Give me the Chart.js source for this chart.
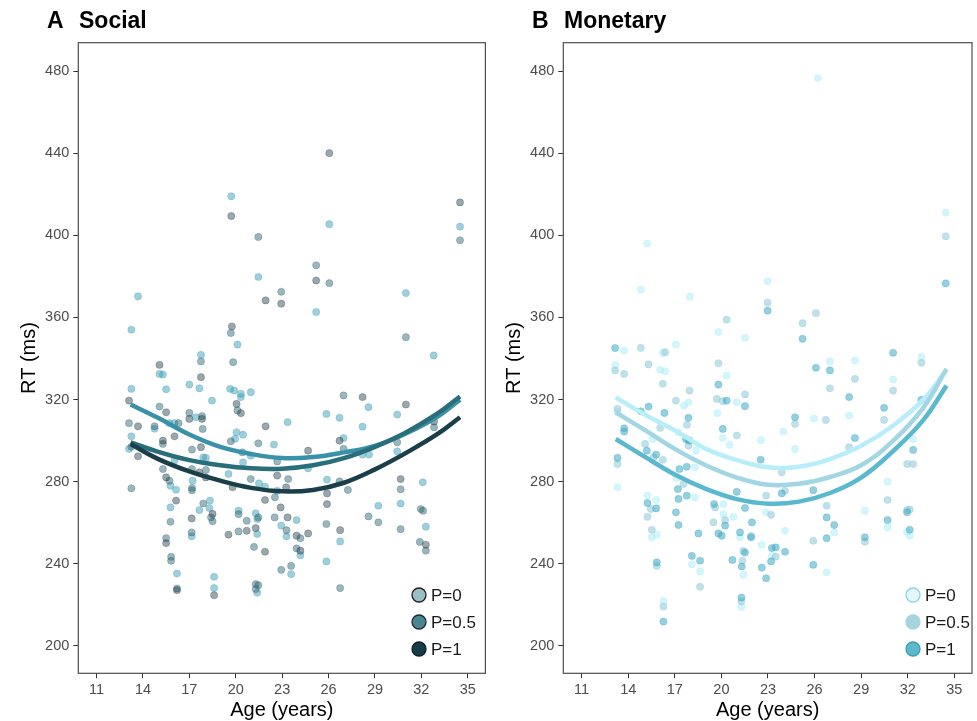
<!DOCTYPE html>
<html>
<head>
<meta charset="utf-8">
<script src="https://cdn.jsdelivr.net/npm/chart.js@4.4.1/dist/chart.umd.min.js"></script>
<style>
  body { margin: 0; background: #fff; }
  #wrap { position: relative; width: 977px; height: 721px; }
  .panel { position: absolute; top: 0; height: 721px; }
</style>
</head>
<body>
<div id="wrap">
  <div class="panel" style="left:0;width:490px"><canvas id="social" width="490" height="721"></canvas></div>
  <div class="panel" style="left:485px;width:492px"><canvas id="monetary" width="492" height="721"></canvas></div>
</div>
<script>
// axis ticks
var xTicks = [11, 14, 17, 20, 23, 26, 29, 32, 35];
var yTicks = [200, 240, 280, 320, 360, 400, 440, 480];
var seriesLabels = ["P=0", "P=0.5", "P=1"];

var curveAges = [13.2, 15, 17, 19, 21, 23, 25, 27, 29, 31, 33, 34.5];

// Social: fitted curves
var socialFitP0 = [317.6, 311, 303, 297, 293.5, 291.5, 292, 294.3, 297.5, 303.5, 311.5, 320];
var socialFitP05 = [299.2, 294.5, 290.5, 288, 286.5, 286.3, 288, 291.5, 297, 304, 313, 321.5];
var socialFitP1 = [298.4, 291, 285, 280.5, 277, 275.3, 276, 279.5, 286, 294, 303, 311.4];

// Monetary: fitted curves
var monetaryFitP0 = [321, 313, 305, 296, 290.5, 287, 287.3, 291, 297.5, 307, 320, 334.5];
var monetaryFitP05 = [313.8, 305.5, 296, 288, 282, 278.5, 279, 282.3, 288, 299.5, 316, 335];
var monetaryFitP1 = [300.8, 292.5, 283.5, 276.5, 271.5, 269.3, 270.3, 274.5, 282, 294.5, 310, 326.8];

// Social: individual RTs [age, RT]
var socialP0 = [[13.25,354],[13.68,370.3],[13.25,325.2],[13.25,302.1],[13.1,296],[15.07,332.5],[15.29,332.2],[15.5,325],[14.75,305.8],[15.71,308.5],[16.04,308.5],[16.04,290.3],[15.78,278],[16.14,276.1],[15.78,267.5],[16.2,235.3],[17,327.3],[17.75,341.8],[17.43,311.4],[17.65,325.5],[17.9,291.9],[18.07,291.6],[17.21,280.5],[17.65,266.2],[18.33,270.8],[18.29,267.2],[17.15,253.4],[18.6,233.7],[18.6,228.2],[18.46,319.5],[20.11,346.8],[19.64,325.2],[19.9,324.4],[20.33,322.8],[20.33,321.2],[20.97,323.6],[20.05,304.1],[20.47,302.9],[19.96,300.9],[20.97,292.7],[20.47,289.4],[22.47,298.1],[19.53,283.8],[21.5,279.2],[21.89,277.6],[23.35,309],[22.68,275.6],[20.18,265.9],[21.29,264.6],[21.39,261.8],[21.39,254.5],[22.94,258.6],[23.28,253.4],[23.93,261.3],[24.18,244.2],[21.39,226],[23.58,235],[24.68,286.5],[25.86,313],[26.71,311.1],[26.97,301.3],[25.9,281],[26.75,250.9],[25.86,241.2],[28.58,316.3],[28.2,306.8],[28.2,293.2],[28.62,293.2],[29.22,268.3],[30.44,312.7],[30.44,294.8],[30.66,269.4],[32.09,279.7],[32.29,258.1],[19.71,419],[26.05,405.4],[25.2,362.6],[31,371.9],[32.8,341.5],[34.5,404.2],[21.46,379.7]];
var socialP05 = [[13.1,308.5],[13.25,297],[13.25,276.8],[15.07,316.6],[14.75,307],[15.29,298.4],[15.29,286.2],[15.71,280.5],[15.78,260.5],[15.82,243.4],[17.75,338.6],[17,313.5],[17.82,311.9],[17.17,295.6],[17.17,286.2],[18.07,285.7],[17.17,276.9],[18.5,260.7],[17.15,255.3],[19.68,352.4],[19.83,338.2],[20.11,314.7],[19.68,299.7],[21.46,298.7],[20.97,281.3],[22.68,289.9],[23.39,281.3],[22.53,272.4],[20.18,264.2],[20.71,261],[21.46,262.6],[21.18,248.3],[22.51,262.6],[23.28,256.4],[24.18,252.5],[23.93,247.5],[22.94,237.1],[26.97,322],[26.97,296],[26.71,280.2],[25.86,259.4],[26.75,228.2],[28.58,263.1],[30.44,299.2],[32.11,265.9],[32.29,246.4],[32.82,306.5],[21.46,399.2],[25.2,385.4],[26.05,376.7],[31,350.4],[34.5,397.6],[16.3,308.5],[15.5,252.5],[15.82,241.5],[16.2,228],[17.86,305.7],[17.17,275.8],[17.9,269.4],[18.4,262.6],[20.43,294.3],[20.18,255.8],[21.29,230.1],[21.46,229.6],[21.29,227.7],[23.58,239],[27.25,276],[29.22,260.2],[30.66,276.3],[30.66,256.9],[31.96,266.7],[31.9,250.7],[22.94,372.5]];
var socialP1 = [[13.1,319.5],[13.68,307],[13.68,292.4],[15.07,336.9],[15.5,313.8],[15.29,300],[16.04,302.1],[15.5,282.1],[16.14,270.8],[15.5,250.1],[16.2,227.2],[17.75,330.9],[17,310.6],[17.82,310.6],[17.75,296.8],[17.65,284.6],[18.07,282.1],[18.5,264.3],[17.15,262.1],[18.6,224.7],[19.75,355.6],[20.05,317.9],[20.33,313.4],[21.93,307],[19.79,277.3],[21.89,271.1],[22.68,283],[23.26,277.3],[22.9,267.5],[19.53,254.2],[20.71,256.1],[21.29,257.4],[21.89,245.9],[23.35,262.6],[23.93,253.7],[24.68,254.8],[24.18,246.4],[24.68,295.1],[26.71,300],[25.9,274.3],[25.9,269.1],[26.75,256.4],[28.2,321.2],[31,317.6],[30.66,281.3],[32.29,249.3],[32.82,309.3],[19.71,409.4],[26.05,440],[25.2,378],[22.94,366.7],[34.5,416],[21.93,368.3]];

// Monetary: individual RTs [age, RT]
var monetaryP0 = [[26.22,476.6],[15.22,396],[22.98,377.6],[14.81,373.5],[17.97,370.1],[19.81,352.9],[21.52,350.1],[13.74,343.9],[16.23,342.6],[17.07,346.8],[13.16,336.9],[16.06,334.5],[16.38,333.8],[20.34,331.7],[17.88,318.7],[17.6,317.1],[20.99,318.7],[19.74,313.4],[13.31,314],[17.24,304.1],[20.09,301.3],[20.52,297.9],[22.55,300.3],[23.99,304.4],[24.74,295.9],[25.96,310.9],[26.99,338.6],[28.6,339],[28.23,312.2],[31.06,329.8],[32.88,340.7],[32.35,300.8],[30.7,280],[30.7,257.7],[31.96,255.6],[32.13,253.7],[29.24,265.9],[27.27,255.3],[26.78,235.8],[22.88,265.1],[24.1,256.1],[22.6,249.3],[23.25,243.9],[21.41,234.7],[21.2,252.9],[20.13,264.2],[20.13,269.1],[20.77,262.9],[21.29,219],[18.1,239.8],[18.63,236.3],[17.13,281.8],[18.3,272.4],[18.37,295.1],[18.3,287],[15.56,300.8],[13.31,277.3],[15.24,273.2],[15.8,271.1],[15.52,252.9],[15.84,254.2],[16.27,221.9],[34.45,411]];
var monetaryP05 = [[22.98,367.2],[26.09,362.1],[25.23,357.2],[20.34,358.9],[14.81,345.2],[16.38,343.1],[13.16,334.2],[13.74,332.5],[15.31,337.1],[16.23,327.7],[19.81,337.7],[17.95,324.4],[17.07,319.5],[19.7,320.3],[20.09,319.2],[21.52,322.5],[13.31,315.5],[17.77,307.7],[16.06,306.2],[17.88,300.3],[20.99,302.5],[24.74,308.1],[26.73,310.1],[26.99,325.5],[28.6,330.1],[28.23,296.8],[31.06,324.4],[30.48,310.1],[32.88,337.9],[31.96,288.6],[32.35,288.6],[30.7,271.1],[31.96,266.2],[32.13,266.5],[29.24,250.8],[26.78,268.3],[25.92,251.2],[24.1,275.6],[23.89,284.6],[22.88,273.2],[23.2,263.9],[23.5,243.5],[21.91,253.6],[21.41,246.3],[21.35,241.5],[20.24,261.3],[19.49,260.2],[19.6,267.5],[21.29,221.8],[18.63,228.8],[17.56,278.9],[17.88,297.6],[16.23,290.7],[15.63,291.9],[15.09,298.4],[13.31,288.6],[15.46,266.7],[15.24,262.9],[15.52,256.6],[15.84,239],[16.27,219.2],[34.45,399.5]];
var monetaryP1 = [[22.98,363.3],[25.23,349.6],[13.16,345.1],[19.81,327.3],[20.34,319.5],[21.52,316.8],[14.81,314.3],[15.31,316.6],[16.33,313.5],[17.88,311.1],[13.74,304.4],[17.72,300.8],[17.94,300],[20.09,305.7],[22.53,290.7],[24.74,311.4],[26.99,334.2],[26.09,335.5],[28.23,321.2],[28.6,301.3],[31.06,342.8],[30.48,316],[32.88,319.9],[32.35,295.5],[30.7,261.3],[31.96,265.1],[32.13,256.6],[29.24,252.9],[26.78,262.6],[27.27,258.9],[26.78,252.5],[25.92,275.9],[25.92,239.5],[23.89,274.3],[23.25,247.7],[23.5,248],[24.1,245.9],[23.2,241.2],[22.6,238.2],[22.88,233],[21.97,260.2],[21.91,252.9],[21.52,245.5],[21.31,238.7],[20.71,241.9],[21.2,255.3],[20.24,258.6],[20.02,253.7],[19.81,254.8],[19.53,269.1],[20.99,275.1],[21.52,267.2],[21.29,223.6],[18.63,241.5],[18.1,243.9],[18.52,254.8],[17.07,265.1],[17.24,258.9],[17.24,271.6],[17.2,276.4],[17.77,273.2],[17.3,286.2],[17.77,287.3],[15.8,293.2],[15.2,295.1],[13.31,291.6],[15.24,269.6],[15.8,267],[15.84,240.7],[16.27,211.9],[34.45,376.6],[13.74,306]];

var FONT = '"Liberation Sans", Arial, Helvetica, sans-serif';
Chart.defaults.font.family = FONT;

function toXY(pairs) {
  return pairs.map(function (p) { return { x: p[0], y: p[1] }; });
}
function curveXY(values) {
  return values.map(function (v, i) { return { x: curveAges[i], y: v }; });
}

// frame, panel title and the inside legend
function decoPlugin(letter, name, legendX, keys) {
  return {
    id: "deco",
    afterDraw: function (chart) {
      var ctx = chart.ctx;
      var a = chart.chartArea;
      ctx.save();
      ctx.strokeStyle = "#4d4d4d";
      ctx.lineWidth = 1.2;
      ctx.strokeRect(a.left, a.top, a.right - a.left, a.bottom - a.top);

      ctx.fillStyle = "#000";
      ctx.font = "bold 23px " + FONT;
      ctx.textBaseline = "alphabetic";
      ctx.fillText(letter, 47, 28);
      ctx.fillText(name, 79, 28);

      var rows = [595, 622, 649];
      ctx.font = "17px " + FONT;
      ctx.textBaseline = "middle";
      for (var i = 0; i < keys.length; i++) {
        ctx.beginPath();
        ctx.arc(legendX, rows[i], 7, 0, Math.PI * 2);
        ctx.fillStyle = keys[i].fill;
        ctx.fill();
        ctx.lineWidth = 1.3;
        ctx.strokeStyle = keys[i].stroke;
        ctx.stroke();
        ctx.fillStyle = "#1a1a1a";
        ctx.fillText(seriesLabels[i], legendX + 12, rows[i] + 1);
      }
      ctx.restore();
    }
  };
}

function makePanel(id, rightPad, pts, fits, pointColors, lineColors, deco) {
  var datasets = [];
  for (var i = 0; i < 3; i++) {
    datasets.push({
      type: "scatter",
      label: seriesLabels[i],
      data: toXY(pts[i]),
      pointRadius: 3.6,
      pointBorderWidth: 0.6,
      backgroundColor: pointColors[i],
      borderColor: pointColors[i],
      order: 6 - i
    });
  }
  for (var j = 0; j < 3; j++) {
    datasets.push({
      type: "line",
      label: seriesLabels[j] + " fit",
      data: curveXY(fits[j]),
      borderColor: lineColors[j],
      borderWidth: 4.5,
      pointRadius: 0,
      tension: 0.4,
      fill: false,
      order: 3 - j
    });
  }

  new Chart(document.getElementById(id), {
    type: "scatter",
    data: { datasets: datasets },
    options: {
      responsive: false,
      animation: false,
      layout: { padding: { top: 42.7, right: rightPad, bottom: 0, left: 0 } },
      plugins: { legend: { display: false }, tooltip: { enabled: false } },
      scales: {
        x: {
          type: "linear",
          min: 9.82,
          max: 36.14,
          afterBuildTicks: function (s) { s.ticks = xTicks.map(function (v) { return { value: v }; }); },
          afterFit: function (s) { s.height = 47.7; },
          border: { display: false },
          grid: { drawOnChartArea: false, drawTicks: true, tickLength: 5, tickColor: "#333", color: "#333" },
          ticks: { font: { size: 14.5 }, color: "#4d4d4d", padding: 3, maxRotation: 0, autoSkip: false },
          title: { display: true, text: "Age (years)", color: "#000", font: { size: 20, lineHeight: 1.05 }, padding: { top: 0, bottom: 0 } }
        },
        y: {
          type: "linear",
          min: 186.7,
          max: 493.8,
          afterBuildTicks: function (s) { s.ticks = yTicks.map(function (v) { return { value: v }; }); },
          afterFit: function (s) { s.width = 78.3; },
          border: { display: false },
          grid: { drawOnChartArea: false, drawTicks: true, tickLength: 5, tickColor: "#333", color: "#333" },
          ticks: { font: { size: 14.5 }, color: "#4d4d4d", padding: 4 },
          title: { display: true, text: "RT (ms)", color: "#000", font: { size: 20 }, padding: { top: 17, bottom: 0 } }
        }
      }
    },
    plugins: [deco]
  });
}

makePanel("social", 2.3,
  [socialP0, socialP05, socialP1],
  [socialFitP0, socialFitP05, socialFitP1],
  ["rgba(64,160,185,0.5)", "rgba(45,100,115,0.47)", "rgba(30,60,70,0.45)"],
  ["#3a92a8", "#2b6e7b", "#1a3f4a"],
  decoPlugin("A", "Social", 419, [
    { fill: "#9bbdc5", stroke: "#1f1f1f" },
    { fill: "#4a8592", stroke: "#1a2c31" },
    { fill: "#163b49", stroke: "#0d1f26" }
  ]));

makePanel("monetary", 5,
  [monetaryP0, monetaryP05, monetaryP1],
  [monetaryFitP0, monetaryFitP05, monetaryFitP1],
  ["rgba(175,236,250,0.55)", "rgba(140,200,215,0.55)", "rgba(60,170,198,0.55)"],
  ["#b7eefa", "#a2d6e3", "#5ab9cf"],
  decoPlugin("B", "Monetary", 428, [
    { fill: "#e2f8fd", stroke: "#8fd3e3" },
    { fill: "#a4d4df", stroke: "#a4d4df" },
    { fill: "#5cb9cd", stroke: "#3c9db2" }
  ]));
</script>
</body>
</html>
